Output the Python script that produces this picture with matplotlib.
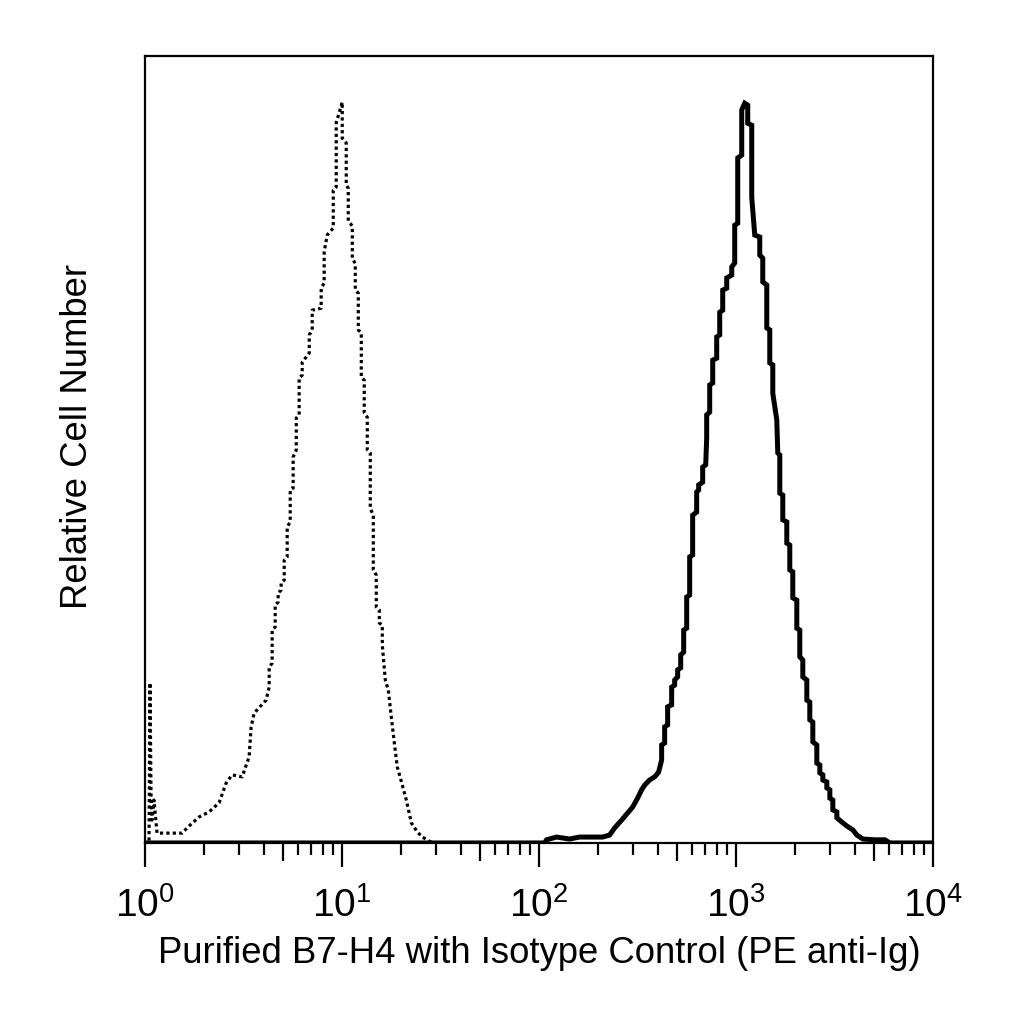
import matplotlib
matplotlib.use("Agg")
from matplotlib import pyplot as plt
from matplotlib.ticker import FixedLocator, FixedFormatter, NullFormatter

plt.rcParams['font.family'] = ['Liberation Sans', 'DejaVu Sans']
plt.rcParams['mathtext.fontset'] = 'custom'
plt.rcParams['mathtext.rm'] = 'Liberation Sans'

# isotype control histogram (dotted)
iso_x = [1.00, 1.048, 1.060, 1.073, 1.085, 1.111, 1.151, 1.206, 1.542, 1.674, 1.882, 2.115, 2.377,
         2.580, 2.768, 3.112, 3.378, 3.458, 3.581, 4.121, 4.27, 4.27, 4.42, 4.42, 4.58, 4.58, 4.74,
         4.74, 4.91, 4.91, 5.09, 5.09, 5.27, 5.27, 5.46, 5.46, 5.65, 5.65, 5.86, 5.86, 6.06, 6.06,
         6.28, 6.28, 6.82, 6.82, 7.06, 7.06, 7.84, 7.84, 8.12, 8.12, 8.41, 9.03, 9.03, 9.35, 9.35,
         10.03,
         10.03, 10.03, 10.51, 10.51, 10.76, 10.76, 11.28, 11.28, 11.68, 11.68, 12.10, 12.10, 12.53,
         12.53, 12.97, 12.97, 13.44, 13.44, 13.92, 13.92, 14.42, 14.42, 14.93, 14.93, 15.47, 15.47,
         16.02, 16.02, 16.59, 17.18, 17.80, 18.44, 19.09, 20.24, 21.21, 22.49, 24.12, 25.58, 28.76]
iso_y = [0, 0, 40.7, 12.2, 5.8, 10.9, 2.5, 2.5, 2.5, 4.3, 6.6, 7.9, 10.2,
         15.2, 17.3, 16.8, 21.9, 29.5, 33.0, 36.3, 39.6, 44.7, 45.7, 54.1, 54.9, 60.5, 61.2,
         63.5, 64.3, 66.1, 66.8, 71.9, 72.7, 80.3, 81.6, 89.7, 90.2, 98.1, 99.9, 108.0, 108.8, 118.2,
         118.9, 122.2, 124.5, 129.1, 130.4, 135.4, 135.9, 141.0, 142.3, 150.2, 154.5, 156.3, 165.9, 166.7, 183.0,
         188.3,
         185.5, 179.1, 177.9, 167.2, 166.4, 158.1, 156.8, 148.5, 147.3, 140.7, 139.7, 130.4, 129.6,
         118.4, 117.6, 109.3, 108.2, 99.9, 99.1, 85.0, 83.3, 69.4, 68.1, 60.0, 59.2, 55.9,
         55.4, 50.3, 41.4, 38.9, 32.0, 25.4, 19.3, 14.7, 10.9, 5.1, 2.8, 1.5, 0]

# purified B7-H4 histogram (bold)
b7_x = [1.0, 106.6, 109.2, 122.7, 142.9, 160.6, 210.2, 228.2, 241.9, 262.6, 281.7, 298.7, 316.7,
        331.9, 343.8, 364.5, 386.4, 404.9, 419.4, 419.4, 434.4, 434.4, 449.9, 449.9, 471.5, 471.5,
        488.4, 488.4, 505.8, 505.8, 524.0, 524.0, 542.7, 542.7, 562.1, 562.1, 582.1, 582.1, 602.7,
        602.7, 631.6, 631.6, 646.6, 646.6, 677.5, 677.5, 702.0, 710.1, 710.1, 735.6, 735.6, 761.8,
        761.8, 798.3, 798.3, 826.9, 826.9, 856.4, 856.4, 897.4, 897.4, 951.5, 951.5, 985.4, 985.4,
        1020.7, 1020.7, 1069.6, 1069.6, 1107.8,
        1147.3, 1147.3, 1202.4, 1202.4, 1245.4, 1320.5, 1320.5, 1367.7, 1367.7, 1433.3, 1433.3,
        1484.4, 1484.4, 1537.6, 1537.6, 1611.2, 1630.2, 1668.9, 1668.9, 1728.3, 1728.3, 1810.9,
        1810.9, 1875.8, 1875.8, 1942.6, 1942.6, 2036.0, 2036.0, 2108.6, 2108.6, 2184.1, 2184.1,
        2288.6, 2288.6, 2370.1, 2370.1, 2455.2, 2455.2, 2572.7, 2572.7, 2664.8, 2664.8, 2759.9,
        2759.9, 2891.9, 2891.9, 2995.5, 2995.5, 3102.2, 3102.2, 3251.0, 3251.0, 3448.9, 3656.8,
        3921.6, 4109.3, 4406.9, 5073.0, 5701.6, 6045.0, 10000]
b7_y = [0, 0, 0.8, 1.5, 1.0, 1.5, 1.5, 2.0, 3.8, 5.8, 7.6, 9.1, 11.4,
        13.5, 14.7, 16.0, 16.8, 18.0, 21.1, 24.9, 25.4, 29.5, 30.0, 34.6, 35.1, 39.6,
        40.1, 41.4, 42.2, 44.0, 44.5, 47.8, 48.5, 54.1, 54.6, 62.5, 63.0, 72.7, 73.2,
        83.3, 84.1, 89.2, 89.7, 91.0, 91.7, 95.5, 96.1, 102.9, 108.8, 109.5, 116.4, 116.9,
        122.7, 123.2, 128.6, 129.1, 134.9, 135.4, 140.5, 141.0, 143.6, 144.3, 146.4, 147.4, 157.0,
        157.5, 174.1, 174.8, 186.3, 188.0,
        187.5, 182.9, 182.4, 164.1, 154.5, 154.0, 149.4, 148.6, 142.6, 141.8, 130.9,
        130.4, 122.0, 121.5, 114.3, 107.5, 99.1, 98.6, 88.9, 88.4, 82.1, 81.6,
        76.2, 75.7, 69.4, 68.9, 62.3, 61.7, 54.6, 54.1, 47.3, 46.5, 42.2,
        41.4, 36.3, 35.8, 31.3, 30.7, 25.7, 24.9, 20.3, 19.8, 17.8,
        17.3, 16.0, 15.5, 14.0, 13.5, 11.4, 10.9, 8.4, 7.9, 6.4, 5.3, 4.3,
        3.3, 2.0, 1.0, 0.8, 0.8, 0, 0]

decades = [1, 10, 100, 1000, 10000]
decade_labels = ['$\\mathregular{10^{0}}$', '$\\mathregular{10^{1}}$', '$\\mathregular{10^{2}}$',
                 '$\\mathregular{10^{3}}$', '$\\mathregular{10^{4}}$']
minors = [m * d for d in decades[:-1] for m in (2, 3, 4, 6, 7, 8, 9)]
fives = [5 * d for d in decades[:-1]]

fig = plt.figure(figsize=(10.24, 10.24), dpi=100)
ax = fig.add_axes([0.1416, 0.1768, 0.7695, 0.7685])

ax.plot(iso_x, iso_y, color='black', lw=2.3, linestyle=(0, (1, 1.0)))
ax.plot(b7_x, b7_y, color='black', lw=3.6, solid_joinstyle='miter')

ax.set_xscale('log')
ax.set_xlim(1, 10000)
ax.set_ylim(0, 200)

ax.xaxis.set_major_locator(FixedLocator(decades))
ax.xaxis.set_major_formatter(FixedFormatter(decade_labels))
ax.xaxis.set_minor_locator(FixedLocator(minors))
ax.xaxis.set_minor_formatter(NullFormatter())
ax.tick_params(axis='x', which='major', direction='out', length=17, width=1.6,
               labelsize=28, pad=15)
ax.tick_params(axis='x', which='minor', direction='out', length=8.5, width=1.6)
ax.set_yticks([])

sec = ax.secondary_xaxis('bottom')
sec.set_xticks(fives)
sec.xaxis.set_minor_locator(FixedLocator([]))
sec.tick_params(axis='x', which='major', direction='out', length=13, width=1.6, labelbottom=False)
sec.spines['bottom'].set_visible(False)

for s in ax.spines.values():
    s.set_linewidth(1.6)

ax.set_xlabel('Purified B7-H4 with Isotype Control (PE anti-Ig)', fontsize=26.3, labelpad=8)
ax.set_ylabel('Relative Cell Number', fontsize=26.3)
ax.yaxis.set_label_coords(-0.0635, 0.517)

fig.savefig('out.png', dpi=100)
